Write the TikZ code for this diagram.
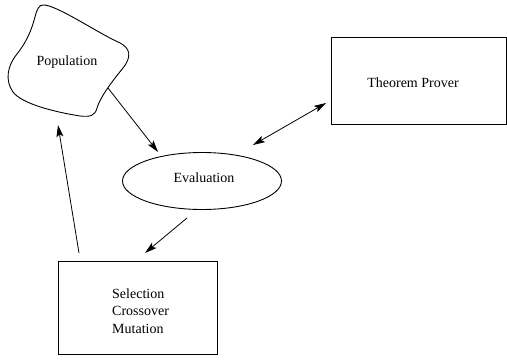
\documentclass[tikz,border=0pt]{standalone}
\usepackage{fontspec}
\setmainfont{Liberation Serif}
\usetikzlibrary{shapes.geometric,arrows.meta}
\begin{document}
\begin{tikzpicture}[x=1pt,y=-1pt,
  every node/.style={font=\fontsize{14}{17.5}\selectfont},
  outline/.style={draw=black,line width=0.9pt},
  conn/.style={line width=0.8pt,-{Stealth[length=12pt,width=7pt,inset=2.5pt]}},
  dconn/.style={line width=0.8pt,{Stealth[length=12pt,width=7pt,inset=2.5pt]}-{Stealth[length=12pt,width=7pt,inset=2.5pt]}}]
\useasboundingbox (0,0) rectangle (507,362);
% Population blob
\draw[outline] (43,5) .. controls (55,4) and (98,33) .. (118,42)
  .. controls (132,48) and (131,58) .. (123,68)
  .. controls (115,78) and (101,95) .. (97,108)
  .. controls (95,116) and (90,117) .. (80,116)
  .. controls (55,112) and (22,104) .. (13,92)
  .. controls (5,81) and (7,66) .. (17,54)
  .. controls (28,40) and (32,28) .. (35,17)
  .. controls (37,9) and (39,5) .. (43,5) -- cycle;
\node (pop) at (67,62) {Population};
\coordinate (popout) at (108,88);
\coordinate (popin) at (58,125);
% Evaluation
\node[outline,ellipse,minimum width=159pt,minimum height=57pt,inner sep=0pt] (eval) at (202,181) {};
\node (evaltxt) at (204,178) {Evaluation};
\coordinate (evalin) at (158,152);
\coordinate (evaltp) at (253,145);
\coordinate (evalout) at (187,218);
% Theorem Prover
\node[outline,rectangle,minimum width=175pt,minimum height=87pt,inner sep=0pt] (tp) at (418.5,80.5) {};
\node (tptxt) at (413,83) {Theorem Prover};
\coordinate (tpin) at (326,103);
% Selection box
\node[outline,rectangle,minimum width=159pt,minimum height=93pt,inner sep=0pt] (sel) at (137.5,307.5) {};
\node[align=left,inner sep=0pt,anchor=west] (seltxt) at (112,311) {Selection\\Crossover\\Mutation};
\coordinate (selin) at (145,253);
\coordinate (selout) at (79,253);
% connectors
\draw[conn] (popout) -- (evalin);
\draw[dconn] (evaltp) -- (tpin);
\draw[conn] (evalout) -- (selin);
\draw[conn] (selout) -- (popin);
\end{tikzpicture}
\end{document}
